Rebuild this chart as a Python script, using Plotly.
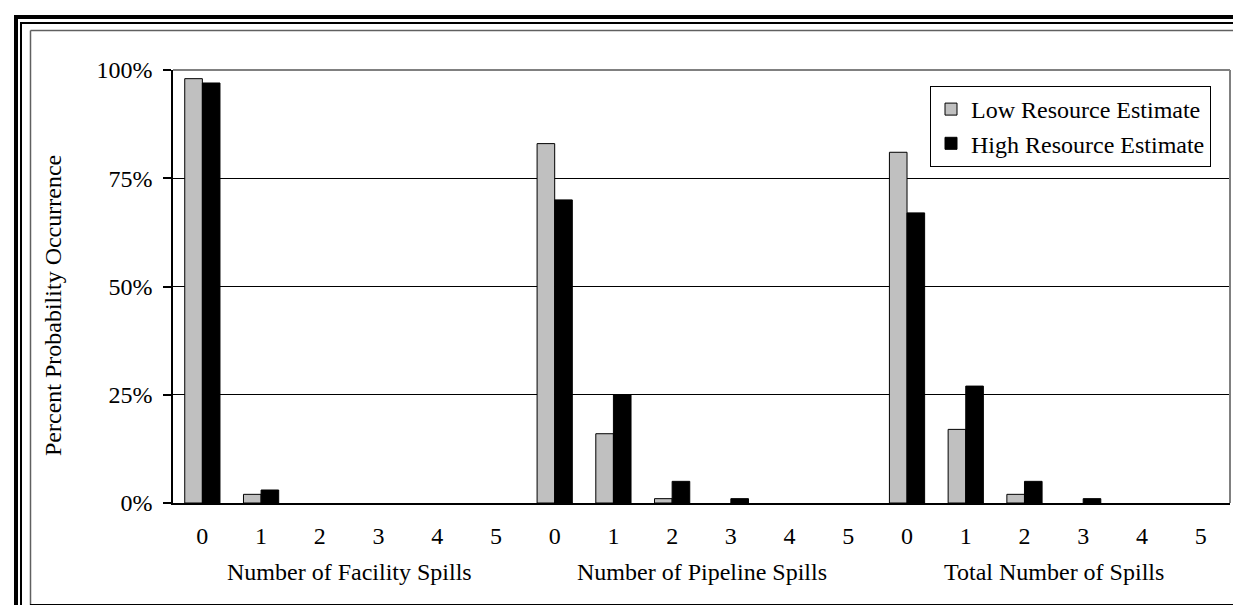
import plotly.graph_objects as go

# ---- data ----
groups = ["Number of Facility Spills", "Number of Pipeline Spills", "Total Number of Spills"]
counts = ["0", "1", "2", "3", "4", "5"]
low_facility = [98, 2, 0, 0, 0, 0]
high_facility = [97, 3, 0, 0, 0, 0]
low_pipeline = [83, 16, 1, 0, 0, 0]
high_pipeline = [70, 25, 5, 1, 0, 0]
low_total = [81, 17, 2, 0, 0, 0]
high_total = [67, 27, 5, 1, 0, 0]
y_ticks = [0, 25, 50, 75, 100]
series_names = ["Low Resource Estimate", "High Resource Estimate"]

low_vals = low_facility + low_pipeline + low_total
high_vals = high_facility + high_pipeline + high_total
n_cat = len(low_vals)
xpos = list(range(n_cat))
tick_text = counts * len(groups)

W, H = 1241, 605
L, R, T, B = 165, 1222, 62, 495  # plot area in px
FONT = "Liberation Serif, Times New Roman, serif"


def px(x):
    return (x - L) / (R - L)


def py(y):
    return (B - y) / (B - T)


fig = go.Figure()
fig.add_trace(go.Bar(x=xpos, y=low_vals, name=series_names[0],
                     marker=dict(color="#C0C0C0",
                                 line=dict(color="black", width=[1 if v > 0 else 0 for v in low_vals]))))
fig.add_trace(go.Bar(x=xpos, y=high_vals, name=series_names[1],
                     marker=dict(color="black",
                                 line=dict(color="black", width=[1 if v > 0 else 0 for v in high_vals]))))

shapes = []
# plot area top/right border (gray)
shapes.append(dict(type="line", xref="paper", yref="paper", x0=0, x1=1, y0=1, y1=1,
                   line=dict(color="#808080", width=2), layer="above"))
shapes.append(dict(type="line", xref="paper", yref="paper", x0=1, x1=1, y0=0, y1=1,
                   line=dict(color="#808080", width=2), layer="above"))
# chart frame
shapes.append(dict(type="line", xref="paper", yref="paper", x0=px(22.5), x1=px(1232), y0=py(22.5), y1=py(22.5),
                   line=dict(color="#606060", width=1.5)))
shapes.append(dict(type="line", xref="paper", yref="paper", x0=px(22.5), x1=px(22.5), y0=py(22.5), y1=py(597),
                   line=dict(color="#606060", width=1.5)))
shapes.append(dict(type="line", xref="paper", yref="paper", x0=px(1232), x1=px(1232), y0=py(22), y1=py(597),
                   line=dict(color="black", width=2)))
shapes.append(dict(type="line", xref="paper", yref="paper", x0=px(22), x1=px(1233), y0=py(597), y1=py(597),
                   line=dict(color="black", width=2)))
# outer double border (top & left)
shapes.append(dict(type="line", xref="paper", yref="paper", x0=px(8), x1=px(8), y0=py(7), y1=py(605),
                   line=dict(color="black", width=4)))
shapes.append(dict(type="line", xref="paper", yref="paper", x0=px(6), x1=px(1241), y0=py(9), y1=py(9),
                   line=dict(color="black", width=4)))
shapes.append(dict(type="line", xref="paper", yref="paper", x0=px(13), x1=px(13), y0=py(14), y1=py(605),
                   line=dict(color="black", width=2)))
shapes.append(dict(type="line", xref="paper", yref="paper", x0=px(12), x1=px(1241), y0=py(15), y1=py(15),
                   line=dict(color="black", width=2)))

annotations = []
for gi, g in enumerate(groups):
    annotations.append(dict(text=g, x=gi * len(counts) + (len(counts) - 1) / 2, xref="x",
                            y=py(564), yref="paper", showarrow=False, xanchor="center", yanchor="middle",
                            font=dict(family=FONT, size=24, color="black")))
annotations.append(dict(text="Percent Probability Occurrence", x=px(45), xref="paper", y=py(297), yref="paper",
                        textangle=-90, showarrow=False, xanchor="center", yanchor="middle",
                        font=dict(family=FONT, size=24, color="black")))

fig.update_layout(
    width=W, height=H,
    margin=dict(l=L, r=W - R, t=T, b=H - B, pad=0),
    paper_bgcolor="white", plot_bgcolor="white",
    barmode="group", bargap=0.40, bargroupgap=0,
    font=dict(family=FONT, size=24, color="black"),
    showlegend=True,
    legend=dict(x=px(1203), xanchor="right", y=py(78), yanchor="top",
                bgcolor="white", bordercolor="black", borderwidth=1,
                font=dict(family=FONT, size=24, color="black"),
                tracegroupgap=0, itemwidth=30),
    shapes=shapes, annotations=annotations,
    xaxis=dict(range=[-0.5, n_cat - 0.5], tickmode="array", tickvals=xpos, ticktext=tick_text,
               showgrid=False, zeroline=False, showline=True, linecolor="black", linewidth=2,
               ticks="", ticklabelstandoff=10, tickfont=dict(family=FONT, size=24, color="black")),
    yaxis=dict(range=[0, 100], tickmode="array", tickvals=y_ticks,
               ticktext=[f"{v}%" for v in y_ticks],
               showgrid=True, gridcolor="black", gridwidth=1, zeroline=False,
               showline=True, linecolor="black", linewidth=1.5,
               ticks="outside", ticklen=8, tickcolor="black", tickwidth=1.5,
               ticklabelstandoff=6, tickfont=dict(family=FONT, size=24, color="black")),
)

fig.write_html("out.html")
